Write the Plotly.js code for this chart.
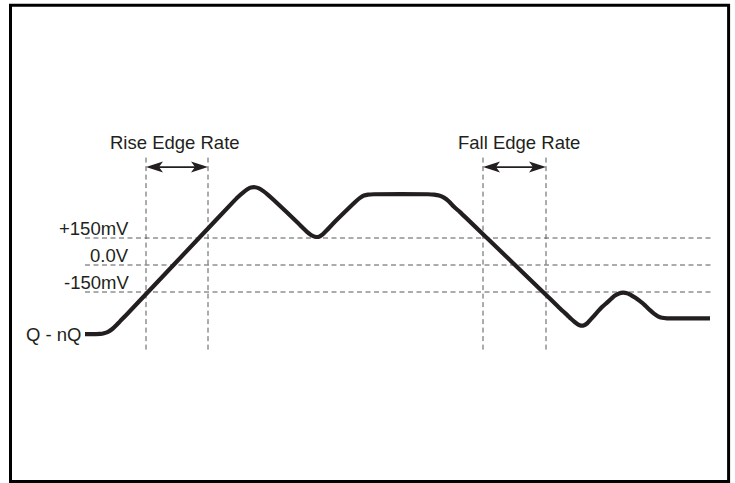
<!DOCTYPE html>
<html>
<head>
<meta charset="utf-8">
<script src="https://cdn.plot.ly/plotly-3.0.1.min.js"></script>
<style>html,body{margin:0;padding:0;background:#fff;}#chart{width:735px;height:483px;}</style>
</head>
<body>
<div id="chart"></div>
<script>
// Waveform (time units, mV)
var waveT = [85, 96, 100, 104, 108, 112, 116, 120, 126, 148, 199,
             232, 238, 243, 247, 251, 255, 259, 263, 268, 274,
             298, 303, 307, 311, 315, 319, 323, 327, 332,
             352, 356, 360, 364, 368, 374, 428, 434, 439, 444, 449, 454, 460,
             487, 515, 543, 558, 563, 567, 571, 575, 579, 583, 587, 591, 596,
             602, 607, 611, 615, 619, 623, 627, 631, 635, 640, 645,
             650, 654, 658, 662, 667, 674, 710];
var waveV = [-384, -384, -383, -379, -371, -357, -336, -313, -279, -150, 150,
             344, 378, 402, 419, 430, 432, 426, 412, 390, 360,
             233, 205, 184, 167, 157, 157, 172, 194, 224,
             333, 354, 373, 386, 391, 393, 393, 391, 386, 374, 353, 323, 294,
             150, 0, -150, -230, -257, -277, -299, -318, -333, -337, -325, -301, -270,
             -234, -209, -189, -170, -158, -154, -157, -167, -181, -201, -224,
             -251, -270, -285, -293, -296, -296, -296];

// Threshold levels (mV) and their labels
var levels = [150, 0, -150];
var levelLabels = ["+150mV", "0.0V", "-150mV"];
var levelSpan = [85, 713];

// Edge-rate markers (time units)
var riseMarks = [146, 208];
var fallMarks = [483, 546];
var markSpan = [-470, 600];
var arrowLevel = 544;
var edgeTitles = ["Rise Edge Rate", "Fall Edge Rate"];
var edgeTitleX = [175, 519];
var edgeTitleY = 611;

var baseLabel = "Q - nQ";

var ink = "#231f20";
var gray = "#58595b";
var font = {family: "Liberation Sans, Arial, sans-serif", size: 18.5, color: ink};

var traces = [];
levels.forEach(function (lv) {
  traces.push({x: levelSpan, y: [lv, lv], mode: "lines", hoverinfo: "skip",
    line: {color: gray, width: 1, dash: "5px,3.5px"}});
});
riseMarks.concat(fallMarks).forEach(function (m) {
  traces.push({x: [m, m], y: markSpan, mode: "lines", hoverinfo: "skip",
    line: {color: gray, width: 1, dash: "5px,3.5px"}});
});
[riseMarks, fallMarks].forEach(function (pair) {
  traces.push({x: [pair[0] + 4, pair[1] - 4], y: [arrowLevel, arrowLevel], mode: "lines",
    hoverinfo: "skip", line: {color: ink, width: 1.6}});
});
traces.push({x: waveT, y: waveV, mode: "lines", hoverinfo: "skip",
  line: {color: ink, width: 4.2, shape: "spline", smoothing: 0.6}});

var shapes = [{type: "rect", xref: "paper", yref: "paper",
  x0: 10.5 / 735, x1: 728.6 / 735, y0: 1 - 481.6 / 483, y1: 1 - 5.3 / 483,
  line: {color: "#000", width: 3}, fillcolor: "rgba(0,0,0,0)"}];
[riseMarks, fallMarks].forEach(function (pair) {
  shapes.push({type: "path", xref: "x", yref: "y", xsizemode: "pixel", ysizemode: "pixel",
    xanchor: pair[1], yanchor: arrowLevel, path: "M0,0L-17,5.5L-13,0L-17,-5.5Z",
    fillcolor: ink, line: {width: 0}});
  shapes.push({type: "path", xref: "x", yref: "y", xsizemode: "pixel", ysizemode: "pixel",
    xanchor: pair[0], yanchor: arrowLevel, path: "M0,0L17,5.5L13,0L17,-5.5Z",
    fillcolor: ink, line: {width: 0}});
});

var annotations = [];
levels.forEach(function (lv, i) {
  annotations.push({x: 130.5, y: lv, xref: "x", yref: "y", text: levelLabels[i], showarrow: false,
    xanchor: "right", yanchor: "bottom", yshift: -3, font: font});
});
edgeTitles.forEach(function (t, i) {
  annotations.push({x: edgeTitleX[i], y: edgeTitleY, xref: "x", yref: "y", text: t, showarrow: false,
    xanchor: "center", yanchor: "bottom", font: font});
});
annotations.push({x: 84, y: waveV[0], xref: "x", yref: "y", text: baseLabel, showarrow: false,
  xanchor: "right", yanchor: "middle", font: font});

var layout = {
  width: 735, height: 483,
  margin: {l: 0, r: 0, t: 0, b: 0, pad: 0},
  paper_bgcolor: "#fff", plot_bgcolor: "#fff",
  showlegend: false,
  xaxis: {range: [0, 735], visible: false, fixedrange: true},
  yaxis: {range: [-1211.1, 1472.2], visible: false, fixedrange: true},
  shapes: shapes,
  annotations: annotations
};

Plotly.newPlot("chart", traces, layout, {staticPlot: true, displayModeBar: false});
</script>
</body>
</html>
